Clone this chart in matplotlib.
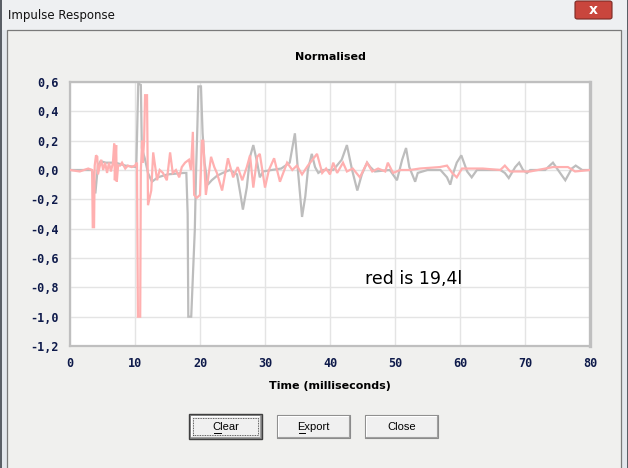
import matplotlib
matplotlib.use("Agg")
import matplotlib.pyplot as plt
from matplotlib.patches import Rectangle, FancyBboxPatch
from matplotlib.lines import Line2D

# ---------------- data (time in ms, normalised amplitude) ----------------
grey_t = [0.0, 3.3, 3.6, 3.9, 4.3, 4.7, 5.5, 7.0, 8.5, 10.2, 10.35, 10.5, 10.9, 11.05, 11.5,
          12.0, 12.6, 13.5, 15.0, 17.5, 17.9, 18.1, 18.2, 18.65, 18.9, 19.2, 19.4, 19.6, 19.75,
          20.15, 20.4, 20.7, 21.2, 21.8, 22.6, 23.5, 24.6, 25.7, 26.2, 26.6, 27.2, 27.7, 28.2,
          28.8, 29.2, 29.7, 31.0, 32.5, 33.8, 34.6, 35.1, 35.7, 36.2, 36.6, 37.2, 37.7, 38.2,
          38.9, 40.5, 41.8, 42.6, 43.4, 44.2, 44.9, 45.7, 46.2, 46.9, 49.2, 50.3, 51.1, 51.7,
          52.2, 53.1, 53.5, 55.0, 57.0, 58.0, 58.5, 58.9, 59.5, 60.2, 61.1, 61.8, 62.6, 66.2,
          66.9, 67.5, 68.5, 69.1, 69.7, 70.3, 70.8, 73.1, 73.8, 74.3, 75.4, 76.2, 77.2, 77.8,
          78.8, 80.0]
grey_v = [0.0, 0.0, -0.02, -0.16, 0.03, 0.06, 0.05, 0.05, 0.03, 0.02, 0.3, 0.59, 0.58, 0.15, 0.08,
          -0.02, -0.08, -0.05, -0.03, -0.02, -0.02, -0.3, -1.0, -1.0, -0.73, -0.41, 0.0, 0.3, 0.57,
          0.57, 0.25, 0.05, -0.1, -0.07, -0.04, -0.02, 0.0, -0.03, -0.16, -0.27, -0.12, 0.09, 0.17,
          0.05, -0.05, -0.01, 0.0, 0.01, 0.05, 0.25, -0.02, -0.32, -0.18, 0.0, 0.11, 0.02, -0.02,
          0.0, 0.0, 0.07, 0.17, 0.0, -0.14, -0.03, 0.05, 0.02, -0.01, 0.0, -0.07, 0.07, 0.15,
          0.02, -0.08, -0.02, 0.0, 0.0, -0.05, -0.1, -0.03, 0.05, 0.1, -0.01, -0.05, 0.0, 0.0,
          -0.02, -0.055, 0.02, 0.05, 0.0, -0.02, 0.0, 0.0, 0.03, 0.05, -0.02, -0.07, 0.01, 0.03,
          0.0, 0.0]

red_t = [0.0, 1.5, 2.8, 3.4, 3.5, 3.7, 3.8, 4.0, 4.2, 4.3, 4.8, 5.1, 5.4, 5.7, 6.0, 6.3, 6.6,
         6.8, 6.9, 7.1, 7.2, 7.4, 7.7, 8.0, 8.5, 8.9, 9.5, 10.0, 10.3, 10.45, 10.8, 10.9, 11.1,
         11.2, 11.4, 11.55, 11.85, 12.0, 12.5, 12.8, 13.4, 13.8, 14.3, 14.9, 15.4, 15.8, 16.3,
         16.8, 17.2, 17.7, 18.3, 18.6, 18.9, 19.1, 19.5, 20.0, 20.3, 20.5, 20.9, 21.7, 22.2,
         22.6, 23.4, 24.3, 25.1, 25.8, 26.5, 27.2, 27.7, 28.2, 28.8, 29.2, 30.0, 30.6, 31.4,
         32.3, 33.4, 34.2, 34.9, 35.7, 36.6, 38.0, 38.8, 39.4, 40.0, 40.5, 41.1, 42.0, 42.6,
         43.5, 44.6, 45.7, 46.5, 47.4, 48.5, 48.9, 49.7, 50.8, 52.3, 53.8, 56.9, 58.0, 58.8,
         59.5, 60.3, 63.5, 66.2, 66.9, 67.7, 70.8, 74.3, 76.6, 77.7, 80.0]
red_v = [0.0, -0.01, 0.01, 0.0, -0.39, -0.39, 0.03, 0.1, 0.09, -0.03, 0.07, 0.0, 0.05, -0.02,
         0.05, -0.01, 0.05, 0.18, -0.07, 0.17, -0.08, 0.03, 0.03, 0.05, 0.01, 0.03, 0.02, 0.03,
         0.05, -1.0, -1.0, 0.0, 0.2, 0.05, 0.2, 0.51, 0.51, -0.24, -0.14, 0.12, -0.07, 0.0, -0.02,
         -0.07, 0.12, -0.02, 0.0, -0.05, 0.02, 0.05, 0.07, 0.0, 0.26, -0.17, -0.19, -0.17, 0.2,
         0.2, -0.17, 0.09, 0.02, -0.02, -0.14, 0.08, -0.05, 0.02, -0.07, 0.02, 0.1, -0.12, 0.09,
         0.11, -0.12, 0.0, 0.08, -0.08, 0.05, 0.0, 0.03, -0.03, 0.03, 0.11, -0.02, 0.01, -0.03,
         0.05, -0.02, 0.05, -0.01, 0.01, -0.05, 0.05, -0.01, 0.01, -0.01, 0.05, -0.02, 0.0, 0.0,
         0.01, 0.02, 0.03, -0.02, -0.05, 0.01, 0.01, 0.0, 0.03, -0.01, -0.01, 0.02, 0.02, -0.01,
         0.0]

x_ticks = [0, 10, 20, 30, 40, 50, 60, 70, 80]
y_ticks = [-1.2, -1.0, -0.8, -0.6, -0.4, -0.2, 0.0, 0.2, 0.4, 0.6]
y_tick_labels = ["-1,2", "-1,0", "-0,8", "-0,6", "-0,4", "-0,2", "0,0", "0,2", "0,4", "0,6"]
title = "Normalised"
x_label = "Time (milliseconds)"
annotation = "red is 19,4l"
window_title = "Impulse Response"
buttons = ["Clear", "Export", "Close"]

# ---------------- figure / window chrome ----------------
W, H = 628, 468
fig = plt.figure(figsize=(W / 100, H / 100), dpi=100)
fig.patch.set_facecolor("#E3E7EC")


def fx(x):
    return x / W


def fy(y):
    return 1 - y / H


def rect(x0, y0, x1, y1, z=1, **kw):
    r = Rectangle((fx(x0), fy(y1)), fx(x1) - fx(x0), fy(y0) - fy(y1),
                  transform=fig.transFigure, zorder=z, **kw)
    fig.patches.append(r)
    return r


# title bar (frosted)
rect(0, 0, W, 30, facecolor="#EEF0F2", edgecolor="none")
rect(0, 0, 1.5, H, facecolor="#5A5F66", edgecolor="none")
rect(W - 1.5, 0, W, H, facecolor="#5A5F66", edgecolor="none")
fig.text(fx(8), fy(15), window_title, fontsize=8.5, family="DejaVu Sans",
         va="center", ha="left", color="#111111")
# close button
cb = FancyBboxPatch((fx(575), fy(19)), fx(612) - fx(575), fy(1) - fy(19),
                    boxstyle="round,pad=0,rounding_size=0.004",
                    transform=fig.transFigure, facecolor="#C9463D", edgecolor="#7A2A24", lw=0.8)
fig.patches.append(cb)
fig.text(fx(593.5), fy(10), "x", fontsize=10, weight="bold", color="white",
         ha="center", va="center", family="DejaVu Sans")

# client area
rect(7, 30, 621, 475, facecolor="#F0F0EE", edgecolor="#7A7A7A", lw=0.9)

# ---------------- plot ----------------
L, R, T, B = 70, 590, 82, 346
ax = fig.add_axes([fx(L), fy(B), fx(R) - fx(L), fy(T) - fy(B)])
ax.set_zorder(5)
ax.set_facecolor("white")
ax.plot(grey_t, grey_v, color="#BDBDBD", lw=1.6, solid_joinstyle="miter", zorder=3)
ax.plot(red_t, red_v, color="#FFB0B0", lw=1.6, solid_joinstyle="miter", zorder=4)
ax.set_xlim(0, 80)
ax.set_ylim(-1.2, 0.6)
ax.set_xticks(x_ticks)
ax.set_yticks(y_ticks)
ax.set_yticklabels(y_tick_labels)
ax.grid(True, color="#E4E4E4", lw=1.0, zorder=0)
ax.set_axisbelow(True)
ax.tick_params(length=0, pad=8, labelsize=8.5, labelcolor="#0E1A4A")
for lab in ax.get_xticklabels() + ax.get_yticklabels():
    lab.set_family("DejaVu Sans Mono")
    lab.set_weight("bold")
for s in ax.spines.values():
    s.set_color("#BFBFBF")
    s.set_linewidth(1.6)
ax.spines["right"].set_linewidth(2.4)
ax.set_title(title, fontsize=8, weight="bold", pad=16, family="DejaVu Sans")
ax.set_xlabel(x_label, fontsize=8, weight="bold", labelpad=8, family="DejaVu Sans")
ax.text(45.4, -0.74, annotation, fontsize=12.5, family="DejaVu Sans", va="center", ha="left")

# ---------------- buttons ----------------
btn_x = [(190, 261), (277, 350), (365, 438)]
by0, by1 = 415, 438
for (x0, x1), name in zip(btn_x, buttons):
    rect(x0, by0, x1, by1, z=2, facecolor="#F0F0F0", edgecolor="#8A8A8A", lw=0.8)
    fig.lines.append(Line2D([fx(x0 + 1), fx(x0 + 1), fx(x1 - 1)], [fy(by1 - 1), fy(by0 + 1), fy(by0 + 1)],
                            transform=fig.transFigure, color="white", lw=0.8, zorder=3))
    fig.lines.append(Line2D([fx(x0 + 1), fx(x1 - 1), fx(x1 - 1)], [fy(by1 - 1), fy(by1 - 1), fy(by0 + 1)],
                            transform=fig.transFigure, color="#A0A0A0", lw=0.8, zorder=3))
    fig.text(fx((x0 + x1) / 2), fy((by0 + by1) / 2 + 0.5), name, fontsize=8,
             family="Liberation Sans", ha="center", va="center", color="black")
rect(189, 414, 262, 439, z=3, facecolor="none", edgecolor="#404040", lw=1.0)
rect(193, 418, 258, 435, z=3, facecolor="none", edgecolor="#303030", lw=0.6, linestyle=(0, (1, 1)))
for x0, x1 in [(214, 221), (299, 305)]:
    fig.lines.append(Line2D([fx(x0), fx(x1)], [fy(433), fy(433)], transform=fig.transFigure,
                            color="black", lw=0.7, zorder=4))

fig.savefig("out.png", dpi=100, facecolor=fig.get_facecolor())
